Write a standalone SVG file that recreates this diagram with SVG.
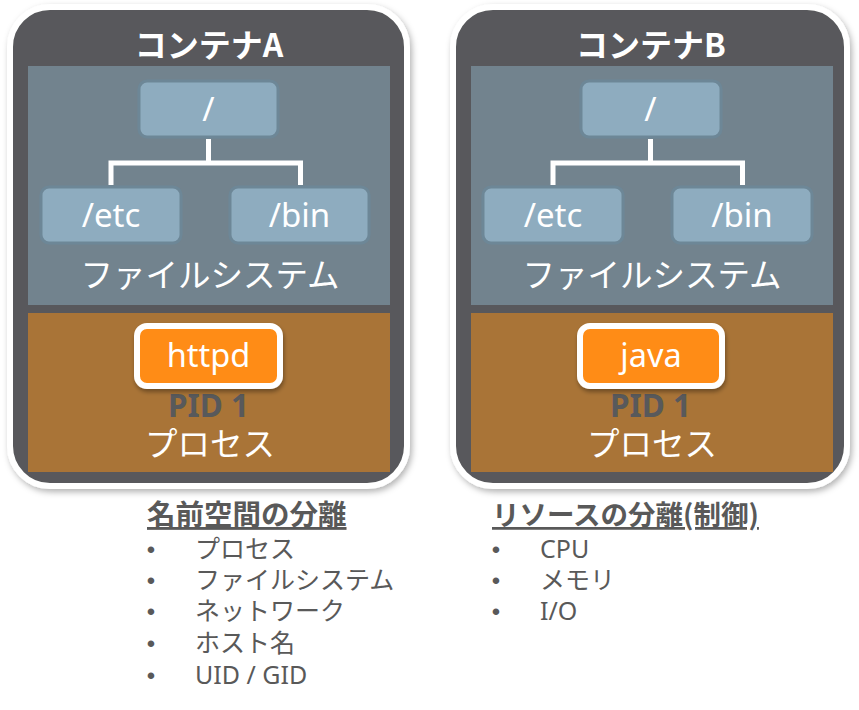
<svg xmlns="http://www.w3.org/2000/svg" width="859" height="710" viewBox="0 0 859 710">
<defs>
<filter id="sh" x="-10%" y="-10%" width="120%" height="120%">
<feDropShadow dx="2" dy="3" stdDeviation="3" flood-color="#000" flood-opacity="0.3"/>
</filter>
<filter id="sh2" x="-20%" y="-20%" width="140%" height="150%">
<feDropShadow dx="1" dy="3" stdDeviation="2" flood-color="#000" flood-opacity="0.35"/>
</filter>
</defs>
<style>
.cont{fill:#58595b;stroke:#fff;stroke-width:6}
.fs{fill:#72838e}
.pr{fill:#a97437}
.dir{fill:#8eacbf;stroke:#6d8797;stroke-width:3}
.proc{fill:#ff8c13;stroke:#fff;stroke-width:6}
.tree{fill:none;stroke:#fff;stroke-width:5}
.t{font-family:"Noto Sans CJK JP","Noto Sans",sans-serif;fill:#fff;text-anchor:middle}
.lat{font-family:"Noto Sans","Noto Sans CJK JP",sans-serif;fill:#fff;text-anchor:middle}
.title{font-size:32px;font-weight:bold}
.big{font-size:33px}
.jbig{font-size:32.5px}
.pid{font-family:"Noto Sans",sans-serif;font-size:31.5px;font-weight:bold;fill:#58595b;text-anchor:middle}
.hd{font-family:"Noto Sans CJK JP",sans-serif;font-weight:bold;fill:#595959;text-decoration:underline}
.li{font-family:"Noto Sans","Noto Sans CJK JP",sans-serif;font-size:25px;fill:#595959}
.bu{font-family:"Liberation Sans",sans-serif;font-size:24px;fill:#595959;text-anchor:middle}
</style>

<g id="containerA">
<rect class="cont" x="10" y="7" width="397" height="479" rx="40" filter="url(#sh)"/>
<text class="t title" x="209" y="57">コンテナA</text>
<rect class="fs" x="28" y="66" width="362" height="239"/>
<rect class="pr" x="28" y="313" width="362" height="159"/>
<text class="t jbig" x="210" y="287">ファイルシステム</text>
<text class="pid" x="208.5" y="417">PID 1</text>
<text class="t jbig" x="210" y="456">プロセス</text>
</g>
<g id="rootA">
<rect class="dir" x="139" y="81" width="139" height="56" rx="8"/>
<text class="lat big" x="208.5" y="121">/</text>
</g>
<g id="etcA">
<rect class="dir" x="41" y="187" width="140" height="56" rx="8"/>
<text class="lat big" x="111" y="227">/etc</text>
</g>
<g id="binA">
<rect class="dir" x="230" y="187" width="139" height="56" rx="8"/>
<text class="lat big" x="299.5" y="227">/bin</text>
</g>
<g id="httpd">
<rect class="proc" x="137" y="326" width="143" height="60" rx="10" filter="url(#sh2)"/>
<text class="lat" x="208.5" y="367" font-size="32.5">httpd</text>
</g>

<g id="containerB">
<rect class="cont" x="453" y="7" width="394" height="479" rx="40" filter="url(#sh)"/>
<text class="t title" x="651" y="57">コンテナB</text>
<rect class="fs" x="471" y="66" width="362" height="239"/>
<rect class="pr" x="471" y="313" width="362" height="159"/>
<text class="t jbig" x="652" y="287">ファイルシステム</text>
<text class="pid" x="650.5" y="417">PID 1</text>
<text class="t jbig" x="652" y="456">プロセス</text>
</g>
<g id="rootB">
<rect class="dir" x="581" y="81" width="140" height="56" rx="8"/>
<text class="lat big" x="650.5" y="121">/</text>
</g>
<g id="etcB">
<rect class="dir" x="483" y="187" width="140" height="56" rx="8"/>
<text class="lat big" x="553" y="227">/etc</text>
</g>
<g id="binB">
<rect class="dir" x="672" y="187" width="140" height="56" rx="8"/>
<text class="lat big" x="742" y="227">/bin</text>
</g>
<g id="java">
<rect class="proc" x="580" y="326" width="142" height="60" rx="10" filter="url(#sh2)"/>
<text class="lat" x="651" y="367" font-size="32.5">java</text>
</g>

<g id="connectors">
<path class="tree" d="M208.5 139 V163 M111 185 V163 H300.5 V185"/>
<path class="tree" d="M650.5 139 V163 M553 185 V163 H742.5 V185"/>
</g>

<g id="namespace-list">
<text class="hd" x="147" y="525" font-size="28.5">名前空間の分離</text>
<text class="bu" x="151" y="558">•</text>
<text class="li" x="195" y="558">プロセス</text>
<text class="bu" x="151" y="589">•</text>
<text class="li" x="195" y="589">ファイルシステム</text>
<text class="bu" x="151" y="620">•</text>
<text class="li" x="195" y="620">ネットワーク</text>
<text class="bu" x="151" y="652">•</text>
<text class="li" x="195" y="652">ホスト名</text>
<text class="bu" x="151" y="684">•</text>
<text class="li" x="195" y="684">UID / GID</text>
</g>
<g id="resource-list">
<text class="hd" x="492" y="525" font-size="27.5">リソースの分離(制御)</text>
<text class="bu" x="496" y="558">•</text>
<text class="li" x="540" y="558">CPU</text>
<text class="bu" x="496" y="589">•</text>
<text class="li" x="540" y="589">メモリ</text>
<text class="bu" x="496" y="620">•</text>
<text class="li" x="540" y="620">I/O</text>
</g>
</svg>
